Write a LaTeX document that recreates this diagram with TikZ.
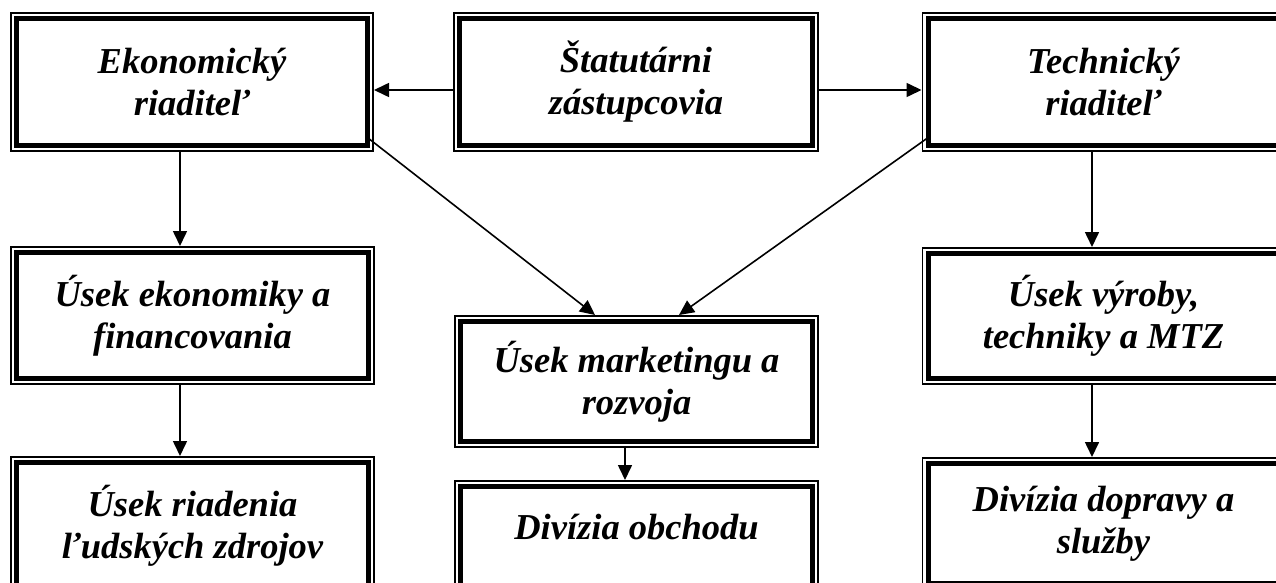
\documentclass[tikz,border=0pt]{standalone}
\usepackage{fontspec}
\setmainfont{Liberation Serif}
\usetikzlibrary{arrows.meta}
\tikzset{
  tribox/.style={
    shape=rectangle, fill=white, inner sep=0pt, outer sep=6.5pt,
    preaction={draw=black, line width=13pt},
    preaction={draw=white, line width=9.6pt},
    draw=black, line width=5pt,
    align=center,
    font=\fontsize{36.5}{42}\selectfont\bfseries\itshape},
  conn/.style={draw=black, line width=1.6pt, -{Triangle[length=15pt,width=14pt]}}
}
\begin{document}
\begin{tikzpicture}[x=1pt,y=1pt]
\useasboundingbox (0,0) rectangle (1276,582);
\clip (0,0) rectangle (1276,582);
\fill[white] (0,0) rectangle (1276,582);
\node[tribox, minimum width=351pt, minimum height=127pt] (ekon) at (192,500) {Ekonomický\\riaditeľ};
\node[tribox, minimum width=353pt, minimum height=127pt] (stat) at (636,500) {Štatutárni\\zástupcovia};
\node[tribox, minimum width=351pt, minimum height=127pt] (tech) at (1103.5,500) {Technický\\riaditeľ};
\node[tribox, minimum width=352pt, minimum height=126pt] (usekek) at (192.5,266.5) {Úsek ekonomiky a\\financovania};
\node[tribox, minimum width=352pt, minimum height=120pt] (mark) at (636.5,200.5) {Úsek marketingu a\\rozvoja};
\node[tribox, minimum width=351pt, minimum height=125pt] (vyr) at (1103.5,266) {Úsek výroby,\\techniky a MTZ};
\node[tribox, minimum width=352pt, minimum height=126pt] (riad) at (192.5,56.5) {Úsek riadenia\\ľudských zdrojov};
\node[tribox, minimum width=352pt, minimum height=120pt] (obch) at (636.5,35.5) {Divízia obchodu\\[-16pt]\strut};
\node[tribox, minimum width=351pt, minimum height=120pt] (dopr) at (1103.5,58.5) {Divízia dopravy a\\služby};
% connectors
\draw[conn] ([yshift=-8pt]stat.west) -- ([yshift=-8pt]stat.west -| ekon.east);
\draw[conn] ([yshift=-8pt]stat.east) -- ([yshift=-8pt]stat.east -| tech.west);
\draw[conn] ([xshift=-12pt]ekon.south) -- ([xshift=-12pt]ekon.south |- usekek.north);
\draw[conn] ([xshift=-12.5pt]usekek.south) -- ([xshift=-12.5pt]usekek.south |- riad.north);
\draw[conn] ([xshift=-11.5pt]tech.south) -- ([xshift=-11.5pt]tech.south |- vyr.north);
\draw[conn] ([xshift=-11.5pt]vyr.south) -- ([xshift=-11.5pt]vyr.south |- dopr.north);
\draw[conn] ([xshift=-11.5pt]mark.south) -- ([xshift=-11.5pt]mark.south |- obch.north);
\draw[conn] ([shift={(-6pt,14pt)}]ekon.south east) -- ([xshift=-41.5pt]mark.north);
\draw[conn] ([shift={(6pt,14pt)}]tech.south west) -- ([xshift=42.5pt]mark.north);
\end{tikzpicture}
\end{document}
